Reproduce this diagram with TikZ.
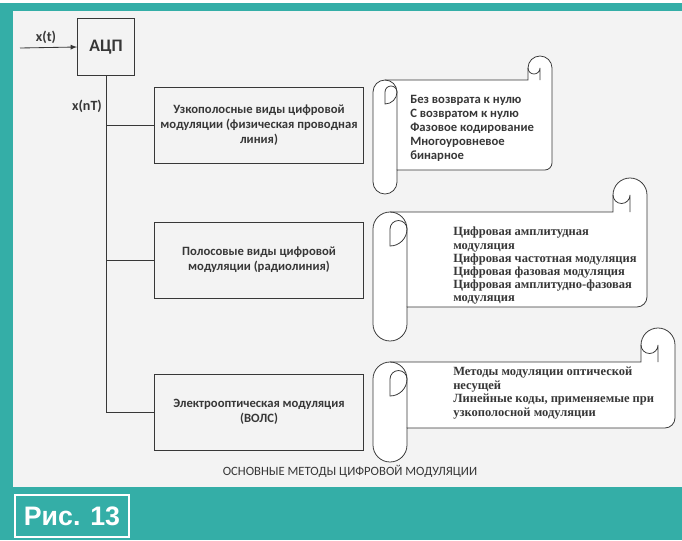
\documentclass[tikz,border=0pt]{standalone}
\usepackage{fontspec}
\newfontfamily\carlitofont{Carlito}
\newfontfamily\timesfont{Liberation Serif}
\newfontfamily\arialfont{Liberation Sans}

\definecolor{frame}{RGB}{52,174,167}
\definecolor{panel}{RGB}{243,243,243}
\definecolor{ink}{RGB}{55,55,55}

\tikzset{
  wire/.style={draw=ink, line width=0.6pt},
  adcbox/.style={draw=ink, line width=0.7pt, minimum width=1.42cm, minimum height=1.42cm,
    font=\carlitofont\bfseries\fontsize{12.5}{14}\selectfont, text=ink},
  block/.style={draw=ink, line width=0.7pt, minimum width=5.2cm, minimum height=1.9cm, align=center,
    font=\carlitofont\bfseries\fontsize{9}{10.7}\selectfont, text=ink},
  lbl/.style={font=\carlitofont\bfseries\fontsize{10}{12}\selectfont, text=ink},
  roll/.style={draw=ink, line width=0.55pt},
  rolltext/.style={anchor=north west, align=left, inner sep=0pt, text=ink},
}

% scroll: left, top, right, bottom, curl radius (pixels, y downwards)
\newcommand{\drawscroll}[5]{%
  \pgfmathsetmacro\scLa{#1+#5}\pgfmathsetmacro\scLb{#1+2*#5}%
  \pgfmathsetmacro\scRa{#3-#5}\pgfmathsetmacro\scRb{#3-2*#5}%
  \pgfmathsetmacro\scTa{#2-#5}\pgfmathsetmacro\scTb{#2+#5}\pgfmathsetmacro\scTc{#2+2*#5}%
  \pgfmathsetmacro\scBa{#4+#5}\pgfmathsetmacro\scBc{#4-0.6*#5}%
  \pgfmathsetmacro\scc{0.6*#5}\pgfmathsetmacro\sch{0.5*#5}%
  \draw[roll, fill=white] (\scLa,#2) -- (\scRb,#2) -- (\scRb,\scTa)
    arc[start angle=180, end angle=360, radius=#5] -- (#3,\scBc)
    arc[start angle=0, end angle=90, radius=\scc] -- (\scLb,#4) -- (\scLb,\scBa)
    arc[start angle=0, end angle=180, radius=#5] -- (#1,\scTb)
    arc[start angle=180, end angle=270, radius=#5] -- cycle;
  \draw[roll] (\scRb,\scTa) arc[start angle=180, end angle=0, radius=\sch] -- (\scRa,#2);
  \draw[roll] (\scLa,#2) arc[start angle=270, end angle=360, radius=#5] -- (\scLb,#4);
  \draw[roll] (\scLb,\scTb) arc[start angle=360, end angle=180, radius=\sch] -- (\scLa,\scTc)
    arc[start angle=90, end angle=0, radius=#5];
}

\begin{document}
\begin{tikzpicture}[x=0.025cm, y=-0.025cm]
\useasboundingbox (0,0) rectangle (682,540);
\fill[white] (0,0) rectangle (682,540);
\fill[frame] (0,3) rectangle (682,540);
\fill[panel] (13,11) rectangle (682,487);

% converter and input
\node[adcbox] (adc) at (106,47) {АЦП};
\coordinate (xin) at (20,48);
\draw[wire,-latex] (xin) -- (adc.west);
\node[lbl] (xt) at (46,37) {x(t)};
\node[lbl] (xnt) at (87,106) {x(nT)};

% three kinds of modulation
\node[block] (narrow) at (259,125) {Узкополосные виды цифровой\\модуляции (физическая проводная\\линия)};
\node[block] (band) at (259,260) {Полосовые виды цифровой\\модуляции (радиолиния)};
\node[block] (optic) at (259,412) {Электрооптическая модуляция\\(ВОЛС)};

\draw[wire] (adc.south) |- (optic.west);
\draw[wire] (adc.south |- narrow.west) -- (narrow.west);
\draw[wire] (adc.south |- band.west) -- (band.west);

% scrolls
\drawscroll{373}{80}{552}{170}{12}
\drawscroll{373}{212}{647}{307}{17}
\drawscroll{373}{362}{675}{428}{17}

\node[rolltext, font=\carlitofont\bfseries\fontsize{9}{10}\selectfont] (codes) at (410,95)
  {Без возврата к нулю\\С возвратом к нулю\\Фазовое кодирование\\Многоуровневое\\бинарное};
\node[rolltext, font=\timesfont\bfseries\fontsize{8.9}{9.3}\selectfont] (radio) at (453,227)
  {Цифровая амплитудная\\модуляция\\Цифровая частотная модуляция\\Цифровая фазовая модуляция\\Цифровая амплитудно-фазовая\\модуляция};
\node[rolltext, font=\timesfont\bfseries\fontsize{8.9}{9.6}\selectfont] (light) at (453,367)
  {Методы модуляции оптической\\несущей\\Линейные коды, применяемые при\\узкополосной модуляции};

\node[font=\carlitofont\fontsize{9}{11}\selectfont, text=ink] (title) at (350,471)
  {ОСНОВНЫЕ МЕТОДЫ ЦИФРОВОЙ МОДУЛЯЦИИ};

\node[draw=white, line width=2pt, fill=frame, minimum width=2.85cm, minimum height=1.05cm,
  font=\arialfont\bfseries\fontsize{19}{22}\selectfont, text=white] (fig) at (72,516) {Рис. 13};
\end{tikzpicture}
\end{document}
